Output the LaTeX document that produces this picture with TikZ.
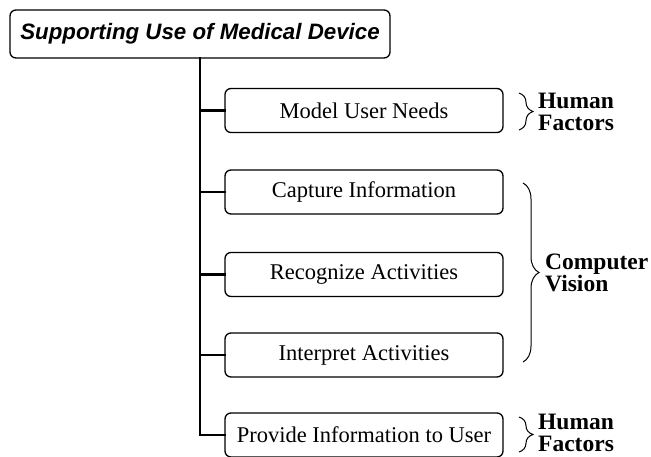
\documentclass[tikz,border=0pt]{standalone}
\usepackage{fontspec}
\setmainfont{Liberation Serif}
\newfontfamily\headfont{Liberation Sans}
\usetikzlibrary{decorations.pathreplacing}

\tikzset{
  headbox/.style={draw, line width=1.3pt, rounded corners=6pt, minimum width=380pt,
    minimum height=48pt, inner sep=0pt,
    font=\headfont\bfseries\itshape\fontsize{22.3}{24}\selectfont},
  taskbox/.style={draw, line width=1.3pt, rounded corners=6pt, minimum width=278pt,
    minimum height=44pt, inner sep=0pt, font=\fontsize{22.5}{24}\selectfont},
  tree/.style={line width=2.7pt, line cap=rect},
  grouping/.style={line width=1pt, decorate, decoration={brace, amplitude=#1}},
  grouping/.default=16pt,
  grouplabel/.style={anchor=west, align=left, inner sep=0pt,
    font=\bfseries\fontsize{23.5}{22.5}\selectfont}
}

\begin{document}
\begin{tikzpicture}[x=1pt, y=1pt]
  \useasboundingbox (0,0) rectangle (651,-457);

  % root
  \node[headbox] (root) at (200,-34) {Supporting Use of Medical Device};

  % sub-tasks
  \node[taskbox] (b1) at (364,-110.5) {Model User Needs};
  \node[taskbox] (b2) at (364,-192) {Capture Information};
  \node[taskbox] (b3) at (364,-274.5) {Recognize Activities};
  \node[taskbox] (b4) at (364,-355) {Interpret Activities};
  \node[taskbox] (b5) at (364,-435) {Provide Information to User};

  % tree connectors
  \draw[tree] (root.south) -- (root.south |- b5.west) -- (b5.west);
  \foreach \b in {b1,b2,b3,b4}
    \draw[tree] (root.south |- \b.west) -- (\b.west);

  % groupings
  \coordinate (g1t) at (519,-93);
  \coordinate (g1b) at (519,-130);
  \coordinate (g2t) at (523,-183);
  \coordinate (g2b) at (523,-362);
  \coordinate (g3t) at (519,-417);
  \coordinate (g3b) at (519,-452);
  \draw[grouping=14pt] (g1t) -- (g1b);
  \draw[grouping] (g2t) -- (g2b);
  \draw[grouping=14pt] (g3t) -- (g3b);

  \node[grouplabel] (l1) at (538,-112) {Human\\Factors};
  \node[grouplabel] (l2) at (545,-273) {Computer\\Vision};
  \node[grouplabel] (l3) at (538,-433) {Human\\Factors};
\end{tikzpicture}
\end{document}
